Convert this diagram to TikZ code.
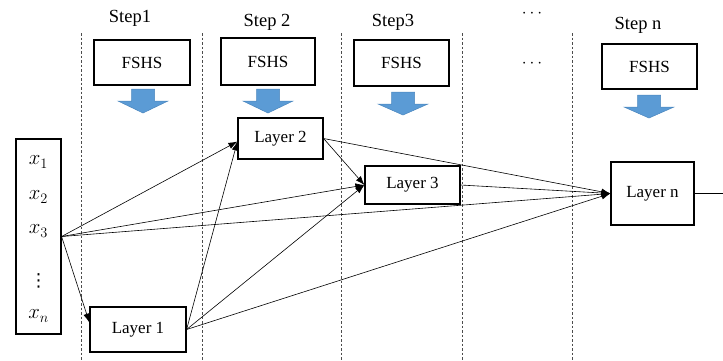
\documentclass[tikz,border=0pt]{standalone}
\usepackage{fontspec}
\setmainfont{Liberation Serif}
\newfontfamily\dvfont{DejaVu Sans}
\usetikzlibrary{arrows.meta,calc}
\definecolor{arrblue}{HTML}{5B9BD5}
\definecolor{arredge}{HTML}{4A86BE}
\begin{document}
\begin{tikzpicture}[x=1pt,y=-1pt,
  box/.style={draw,line width=1.2pt,inner sep=0pt,font=\fontsize{17}{19}\selectfont},
  steplabel/.style={inner sep=0pt,font=\fontsize{18.5}{21}\selectfont},
  xlabel/.style={inner sep=0pt,font=\fontsize{21}{24}\selectfont},
  sep/.style={dashed,line width=0.5pt,gray!60!black,dash pattern=on 2.5pt off 2pt},
  link/.style={line width=0.6pt,-{Latex[length=9pt,width=6.5pt]}},
  blockarrow/.style={fill=arrblue,draw=arredge,line width=0.5pt}]
\useasboundingbox (0,0) rectangle (723,360);
% dashed separators
\foreach \xx in {81,202,341,462,572}
  \draw[sep] (\xx,33) -- (\xx,360);
% step labels
\node[steplabel] (s1) at (130,18) {Step1};
\node[steplabel] (s2) at (267,22) {Step 2};
\node[steplabel] (s3) at (393,22) {Step3};
\node[steplabel] (sd) at (532,14) {$\cdots$};
\node[steplabel] (sn) at (638,25) {Step n};
% FSHS boxes
\node[box,minimum width=96pt,minimum height=45pt] (f1) at (142,62.5) {FSHS};
\node[box,minimum width=94pt,minimum height=47pt] (f2) at (268,61.5) {FSHS};
\node[box,minimum width=95pt,minimum height=46pt] (f3) at (401.5,63) {FSHS};
\node[steplabel] (fd) at (532,64) {$\cdots$};
\node[box,minimum width=95pt,minimum height=45pt] (fn) at (649.5,66.5) {FSHS};
% blue block arrows
\foreach \cx/\ty/\tip in {143/89/113,268/89/113,403/92/115,649/95/118}{
  \draw[blockarrow] (\cx-11.5,\ty) -- (\cx+11.5,\ty) -- (\cx+11.5,\ty+12) -- (\cx+25,\ty+12)
    -- (\cx,\tip) -- (\cx-25,\ty+12) -- (\cx-11.5,\ty+12) -- cycle;
}
% input box
\node[box,minimum width=45pt,minimum height=195pt] (in) at (38.5,236.5) {};
\node[xlabel] (x1) at (38.5,162) {$x_1$};
\node[xlabel] (x2) at (38.5,197) {$x_2$};
\node[xlabel] (x3) at (38.5,231) {$x_3$};
\node[inner sep=0pt,font=\dvfont\fontsize{18}{20}\selectfont] (xd) at (38.5,281) {⋮};
\node[xlabel] (xn) at (38.5,316) {$x_n$};
% layers
\node[box,minimum width=96pt,minimum height=45pt] (L1) at (138,329.5) {Layer 1};
\node[box,minimum width=85pt,minimum height=41pt] (L2) at (280.5,138.5) {Layer 2};
\node[box,minimum width=95pt,minimum height=38pt] (L3) at (412.5,185) {Layer 3};
\node[box,minimum width=83pt,minimum height=63pt] (Ln) at (652.5,193.5) {Layer n};
% target points
\coordinate (t1) at ($(L1.north west)!0.35!(L1.south west)$);
\coordinate (t2) at ($(L2.west)+(0,3)$);
\coordinate (out) at (723,193.5);
% connectors
\draw[link] (in.east) -- (t1);
\draw[link] (in.east) -- (t2);
\draw[link] (in.east) -- (L3.west);
\draw[link] (in.east) -- (Ln.west);
\draw[link] (L1.east) -- (t2);
\draw[link] (L1.east) -- (L3.west);
\draw[link] (L1.east) -- (Ln.west);
\draw[link] (L2.east) -- (L3.west);
\draw[link] (L2.east) -- (Ln.west);
\draw[link] (L3.east) -- (Ln.west);
\draw[line width=0.6pt] (Ln.east) -- (out);
\end{tikzpicture}
\end{document}
